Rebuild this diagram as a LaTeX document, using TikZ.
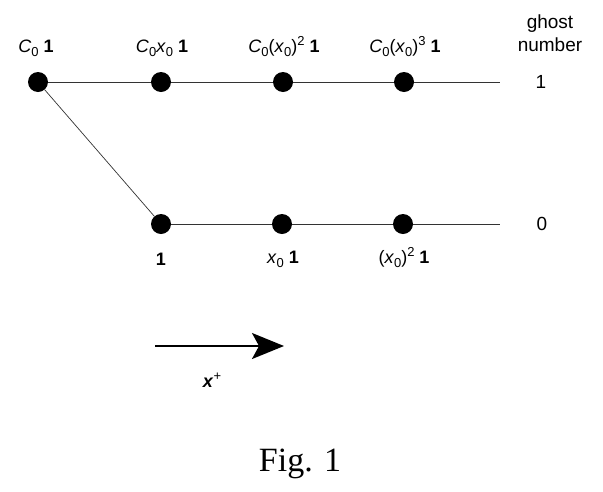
\documentclass[tikz,border=0pt]{standalone}
\usepackage{fontspec}
\setmainfont{Liberation Sans}
\newfontfamily\figfont{Liberation Serif}
\usetikzlibrary{arrows.meta}
\newcommand{\sbz}{\raisebox{-4pt}{\fontsize{13}{14}\selectfont 0}}
\newcommand{\spw}[1]{\raisebox{7pt}{\fontsize{13}{14}\selectfont #1}}
\begin{document}
\begin{tikzpicture}[x=1pt,y=-1pt,
  dot/.style={circle,fill=black,inner sep=0pt,minimum size=20pt},
  lbl/.style={font=\fontsize{18}{21}\selectfont,inner sep=0pt},
  conn/.style={line width=0.7pt,black!80}]
\useasboundingbox (0,0) rectangle (603,491);
\node[dot] (a1) at (38,82) {};
\node[dot] (a2) at (161,82) {};
\node[dot] (a3) at (283,82) {};
\node[dot] (a4) at (404,82) {};
\coordinate (aend) at (500,82);
\node[dot] (b1) at (161,224) {};
\node[dot] (b2) at (282,224) {};
\node[dot] (b3) at (403,224) {};
\coordinate (bend) at (500,224);
\draw[conn] (a1) -- (a2) -- (a3) -- (a4) -- (aend);
\draw[conn] (b1) -- (b2) -- (b3) -- (bend);
\draw[conn] (a1) -- (b1);
\node[lbl] (ta1) at (36,48) {\textit{C}\sbz{} \textbf{1}};
\node[lbl] (ta2) at (162,48) {\textit{C}\sbz\textit{x}\sbz{} \textbf{1}};
\node[lbl] (ta3) at (284,47) {\textit{C}\sbz(\textit{x}\sbz)\spw{2} \textbf{1}};
\node[lbl] (ta4) at (405,47) {\textit{C}\sbz(\textit{x}\sbz)\spw{3} \textbf{1}};
\node[lbl] (tb1) at (161,259) {\textbf{1}};
\node[lbl] (tb2) at (283,259) {\textit{x}\sbz{} \textbf{1}};
\node[lbl] (tb3) at (404,258) {(\textit{x}\sbz)\spw{2} \textbf{1}};
\node[lbl,font=\fontsize{19}{23}\selectfont,align=center] (gh) at (550,33) {ghost\\number};
\node[lbl,font=\fontsize{19}{23}\selectfont] (g1) at (541,82) {1};
\node[lbl,font=\fontsize{19}{23}\selectfont] (g0) at (542,224) {0};
\coordinate (xs) at (155,346);
\coordinate (xe) at (284,346);
\draw[line width=1.8pt,-{Stealth[length=32pt,width=26pt,inset=7pt]}] (xs) -- (xe);
\node[lbl] (xl) at (212,380) {\textbf{\textit{x}}\spw{\fontsize{13}{14}\selectfont +}};
\node[font=\figfont\fontsize{34}{38}\selectfont,inner sep=0pt] (fig) at (300,464) {Fig. 1};
\end{tikzpicture}
\end{document}
